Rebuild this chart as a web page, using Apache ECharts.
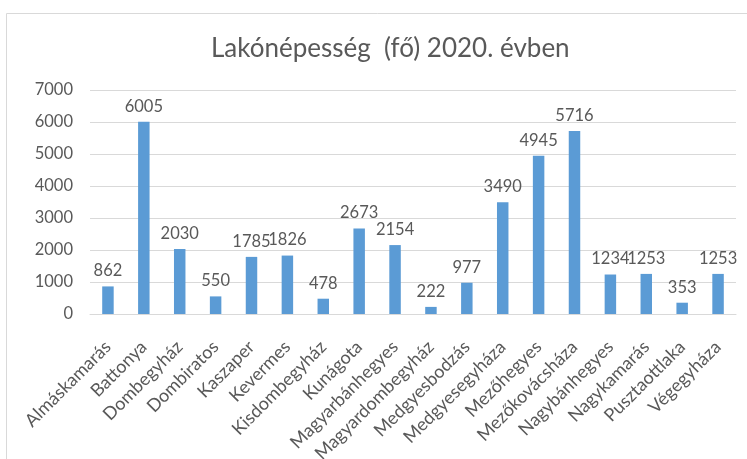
<!DOCTYPE html>
<html>
<head>
<meta charset="utf-8">
<script src="https://cdn.jsdelivr.net/npm/echarts@6/dist/echarts.min.js"></script>
<style>
  html, body { margin: 0; padding: 0; background: #fff; }
  #chart { width: 747px; height: 459px; }
</style>
</head>
<body>
<div id="chart"></div>
<script>
const categories = [
  "Almáskamarás", "Battonya", "Dombegyház", "Dombiratos", "Kaszaper",
  "Kevermes", "Kisdombegyház", "Kunágota", "Magyarbánhegyes", "Magyardombegyház",
  "Medgyesbodzás", "Medgyesegyháza", "Mezőhegyes", "Mezőkovácsháza", "Nagybánhegyes",
  "Nagykamarás", "Pusztaottlaka", "Végegyháza"
];
const population = [862, 6005, 2030, 550, 1785, 1826, 478, 2673, 2154, 222, 977, 3490, 4945, 5716, 1234, 1253, 353, 1253];

const chart = echarts.init(document.getElementById("chart"));
const grey = "#595959";
const font = "Lato, 'Open Sans', sans-serif";

chart.setOption({
  animation: false,
  textStyle: { fontFamily: font },
  title: {
    text: "Lakónépesség  (fő) 2020. évben",
    left: 206,
    top: 31,
    textStyle: { color: grey, fontSize: 26, fontWeight: "normal", fontFamily: font }
  },
  // outer chart border
  graphic: [{
    type: "rect",
    shape: { x: 6.5, y: 13.5, width: 800, height: 500 },
    style: { fill: "none", stroke: "#d9d9d9", lineWidth: 1 },
    silent: true
  }],
  grid: { left: 90, right: 11, top: 90, bottom: 145, outerBoundsMode: "none" },
  xAxis: {
    type: "category",
    data: categories,
    axisTick: { show: false },
    axisLine: { lineStyle: { color: "#d9d9d9" } },
    axisLabel: {
      rotate: 45, color: grey, fontSize: 18, margin: 30, interval: 0,
      verticalAlign: "middle", padding: [20, 0, 0, 0]
    }
  },
  yAxis: {
    type: "value",
    min: 0,
    max: 7000,
    interval: 1000,
    axisLine: { show: false },
    axisTick: { show: false },
    splitLine: { lineStyle: { color: "#d9d9d9" } },
    axisLabel: { color: grey, fontSize: 16.5, margin: 17, formatter: v => String(v) }
  },
  series: [{
    type: "bar",
    data: population,
    barWidth: "32%",
    itemStyle: { color: "#5b9bd5" },
    label: { show: true, position: "top", distance: 7, color: grey, fontSize: 16.5 }
  }]
});
</script>
</body>
</html>
